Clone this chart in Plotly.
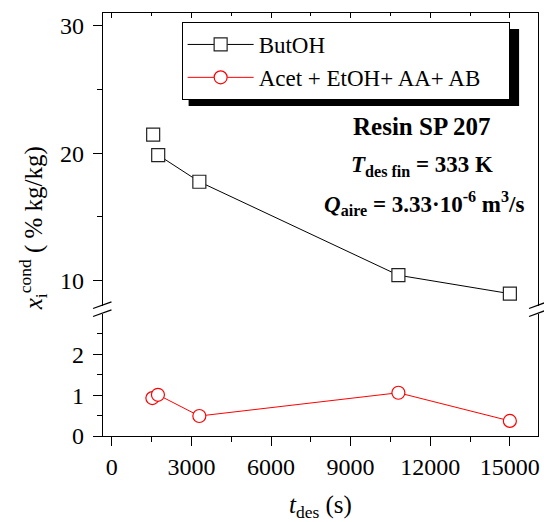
import plotly.graph_objects as go

# ---- data ----
t_des = [1560, 1750, 3300, 10800, 15000]
butoh = [21.45, 19.85, 17.75, 10.4, 8.95]
t_des_red = [1530, 1740, 3300, 10800, 15000]
acet_mix = [0.93, 1.01, 0.49, 1.06, 0.37]
series_names = ["ButOH", "Acet + EtOH+ AA+ AB"]
x_ticks = [0, 3000, 6000, 9000, 12000, 15000]
x_ticklabels = ["0", "3000", "6000", "9000", "12000", "15000"]
x_minor = [1500, 4500, 7500, 10500, 13500]
y_up_ticks = [10, 20, 30]
y_up_minor = [15, 25]
y_lo_ticks = [0, 1, 2]
y_lo_minor = [0.5, 1.5, 2.5]

W, H = 544, 522
L, R, T, B = 103, 540, 13, 436
pw, ph = R - L, B - T

def px(x):
    return (x - L) / pw

def py(y):
    return (B - y) / ph

FONT = "Liberation Serif"
X_RANGE = [-330, 16060]
UP_RANGE = [7.98, 31.02]
LO_RANGE = [0, 2.99]
UP_DOM = [py(306), 1]
LO_DOM = [0, py(314)]

fig = go.Figure()

sq = dict(symbol="square", size=13, color="white", line=dict(color="#222", width=1.2))
fig.add_trace(go.Scatter(
    x=t_des[1:], y=butoh[1:], xaxis="x2", yaxis="y2", mode="lines+markers",
    name=series_names[0], line=dict(color="black", width=1), marker=sq))
fig.add_trace(go.Scatter(
    x=t_des[:1], y=butoh[:1], xaxis="x2", yaxis="y2", mode="markers",
    showlegend=False, marker=sq))
fig.add_trace(go.Scatter(
    x=t_des_red, y=acet_mix, xaxis="x", yaxis="y", mode="lines+markers",
    name=series_names[1] + "\u00a0" * 4, line=dict(color="red", width=1),
    marker=dict(symbol="circle", size=13, color="white",
                line=dict(color="red", width=1.2))))

tickfont = dict(family=FONT, size=24, color="black")
common_y = dict(showline=True, linecolor="black", linewidth=1.3, showgrid=False,
                zeroline=False, ticks="outside", ticklen=9, tickwidth=1.2,
                tickcolor="black", tickfont=tickfont, mirror=True,
                ticklabelstandoff=4)
right_y = dict(showline=False, showgrid=False, zeroline=False, ticks="inside",
               ticklen=5, tickwidth=1, tickcolor="black", showticklabels=False,
               side="right")

fig.update_layout(
    width=W, height=H,
    margin=dict(l=L, r=W - R, t=T, b=H - B),
    paper_bgcolor="white", plot_bgcolor="white",
    font=dict(family=FONT, color="black"),
    xaxis=dict(domain=[0, 1], anchor="y", range=X_RANGE, showline=True,
               linecolor="black", linewidth=1.3, showgrid=False, zeroline=False,
               ticks="outside", ticklen=9, tickwidth=1.2, tickcolor="black",
               tickvals=x_ticks, ticktext=x_ticklabels, tickfont=tickfont,
               minor=dict(tickvals=x_minor, ticks="outside", ticklen=5,
                          tickwidth=1.2, tickcolor="black")),
    xaxis2=dict(domain=[0, 1], anchor="y2", range=X_RANGE, side="top",
                showline=True, linecolor="black", linewidth=1.3, showgrid=False,
                zeroline=False, ticks="inside", ticklen=5, tickwidth=1,
                tickcolor="black", tickvals=x_ticks, showticklabels=False,
                minor=dict(tickvals=x_minor, ticks="inside", ticklen=3,
                           tickwidth=1, tickcolor="black")),
    yaxis=dict(domain=LO_DOM, anchor="x", range=LO_RANGE, tickvals=y_lo_ticks,
               minor=dict(tickvals=y_lo_minor, ticks="outside", ticklen=5,
                          tickwidth=1.2, tickcolor="black"), **common_y),
    yaxis2=dict(domain=UP_DOM, anchor="x2", range=UP_RANGE, tickvals=y_up_ticks,
                minor=dict(tickvals=y_up_minor, ticks="outside", ticklen=5,
                           tickwidth=1.2, tickcolor="black"), **common_y),
    yaxis3=dict(overlaying="y", anchor="x", range=LO_RANGE, tickvals=y_lo_ticks,
                minor=dict(tickvals=y_lo_minor, ticks="inside", ticklen=5,
                           tickwidth=1, tickcolor="black"), **right_y),
    yaxis4=dict(overlaying="y2", anchor="x2", range=UP_RANGE, tickvals=y_up_ticks,
                minor=dict(tickvals=y_up_minor, ticks="inside", ticklen=5,
                           tickwidth=1, tickcolor="black"), **right_y),
    showlegend=True,
    legend=dict(x=px(182), y=py(22), xanchor="left", yanchor="top",
                bgcolor="white", bordercolor="black", borderwidth=1,
                font=dict(family=FONT, size=23, color="black"),
                itemwidth=66),
)

shapes = []
# legend drop shadow
shapes.append(dict(type="rect", xref="paper", yref="paper",
                   x0=px(189), x1=px(521), y0=py(106), y1=py(29),
                   fillcolor="black", line=dict(width=0), layer="above"))
# axis break marks
for xs in (93, 531):
    for dy in (0, 8):
        shapes.append(dict(type="line", xref="paper", yref="paper",
                           x0=px(xs), y0=py(308.5 + dy),
                           x1=px(xs + 18.5), y1=py(301.8 + dy),
                           line=dict(color="black", width=1.3)))
fig.update_layout(shapes=shapes)

ann = [
    dict(text="<i>x</i><sub>i</sub><sup>cond</sup> ( % kg/kg)",
         x=px(33), y=py(228), textangle=-90, font=dict(size=25)),
    dict(text="<i>t</i><sub>des</sub> (s)", x=px(321), y=py(507),
         font=dict(size=25)),
    dict(text="<b>Resin SP 207</b>", x=px(423), y=py(126), font=dict(size=25)),
    dict(text="<b><i>T</i><sub>des fin</sub> = 333 K</b>", x=px(423),
         y=py(166), font=dict(size=23)),
    dict(text="<b><i>Q</i><sub>aire</sub> = 3.33·10<sup>-6</sup> m<sup>3</sup>/s</b>",
         x=px(425), y=py(203), font=dict(size=23)),
]
for a in ann:
    a.update(xref="paper", yref="paper", showarrow=False,
             xanchor="center", yanchor="middle")
    a["font"]["family"] = FONT
    a["font"]["color"] = "black"
fig.update_layout(annotations=ann)

fig.write_html("out.html")
